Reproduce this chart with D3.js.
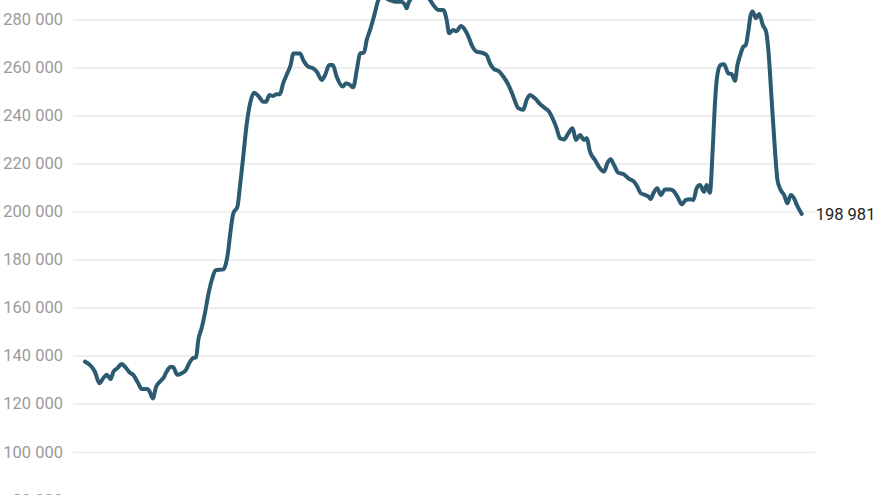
<!DOCTYPE html>
<html>
<head>
<meta charset="utf-8">
<script src="https://cdn.jsdelivr.net/npm/d3@7"></script>
<style>
  html, body { margin: 0; padding: 0; background: #fff; overflow: hidden; }
  svg { display: block; font-family: Roboto, "Noto Sans", sans-serif; }
</style>
</head>
<body>
<div id="container"></div>
<script>
/* CONSTANTS AND GLOBALS */
const width = 880,
      height = 495;

// week number since start of series
const weeks = [
  0, 2.4, 3.6, 5.2, 6.6, 7.9, 9.3, 10.3, 11.7, 13.3, 14.5, 16.3, 17.5, 19.3, 20.6, 22.4, 23.3, 24.6,
  25.8, 27.2, 28.4, 29.6, 31.1, 32.0, 33.5, 35.1, 36.6, 37.8, 39.1, 40.3, 41.1, 42.3, 43.5, 44.7,
  46.0, 47.4, 50.2, 51.0, 52.0, 52.6, 53.8, 55.3, 56.2, 57.4, 58.7, 59.9, 61.3, 62.9, 64.7, 65.7,
  66.9, 68.1, 69.5, 70.7, 71.9, 73.4, 74.6, 75.6, 78.0, 79.2, 81.0, 82.8, 84.1, 85.9, 87.1, 88.6,
  89.9, 91.3, 93.5, 94.7, 96.1, 97.3, 98.6, 99.8, 101.2, 102.2, 103.4, 104.8, 106.4, 107.7, 109.2,
  110.6, 112.5, 114.9, 116.1, 116.7, 117.3, 117.9, 119.7, 121.5, 123.3, 125.2, 126.4, 128.2, 130.0,
  131.2, 132.1, 133.6, 134.8, 136.3, 137.9, 139.1, 140.3, 142.1, 143.9, 145.7, 146.9, 148.1, 150.3,
  151.8, 153.6, 155.4, 157.2, 159.0, 160.2, 161.4, 163.2, 165.1, 166.9, 168.4, 169.9, 171.1, 172.3,
  173.8, 175.3, 176.9, 178.1, 179.6, 181.0, 182.0, 183.2, 185.0, 186.8, 188.3, 189.5, 190.7, 191.9,
  193.5, 195.3, 197.1, 199.2, 200.4, 201.6, 203.2, 204.4, 205.2, 206.2, 207.6, 208.9, 210.4, 212.3,
  213.4, 214.9, 216.5, 218.0, 219.5, 220.7, 221.9, 223.1, 224.6, 225.5, 226.7, 227.7, 228.6, 229.4,
  230.6, 231.8, 233.4, 234.6, 235.8, 236.7, 237.9, 238.8, 239.7, 240.6, 241.5, 242.2, 243.4, 244.6,
  245.9, 247.1, 247.9, 249.1, 250.3, 251.2, 252.4, 253.6, 254.8, 256.0, 257.2, 258.2, 260
];

const values = [
  137500, 135400, 133300, 128500, 130600, 132000, 130200, 133300, 134700, 136500, 135400, 132900, 132000, 128500, 126100, 126100, 125400, 122200,
  127100, 129200, 130600, 133300, 135400, 135200, 132000, 132700, 134000, 136800, 138900, 139300, 146500, 151400, 157600, 165200,
  171500, 175600, 175900, 177700, 184000, 190000, 199200, 202000, 210300, 222800, 236700, 245000, 249400, 248100, 245700, 245700,
  248500, 248100, 248800, 248800, 253400, 257500, 261000, 265800, 265800, 263000, 260300, 259600, 258200, 254700, 256800, 261000,
  261000, 256100, 252000, 253400, 252700, 251700, 258900, 265800, 266100, 271400, 275500, 281100, 288000, 290500, 288800,
  288000, 287300, 287300, 285900, 284600, 286700, 288000, 290500, 291000, 290500, 288000, 285900, 283900, 283900,
  279700, 274200, 275500, 275000, 277200, 275500, 272800, 269300, 266500, 266100, 265100, 261700, 259600, 258200,
  256100, 252700, 247800, 243000, 242300, 246400, 248500, 247100, 244700, 243000, 241500, 238100, 234600, 230500,
  230000, 232500, 234600, 229800, 231800, 229800, 230500, 224900, 221400, 218000, 216600, 220100, 221700, 219400,
  216100, 215600, 213800, 212400, 210300, 207600, 206900, 206200, 205200, 207600, 209700, 206900, 209200, 209200,
  208700, 206200, 203000, 204800, 205100, 204800, 209700, 211000, 208200, 211000, 207800, 225600, 246400, 256800,
  261000, 261300, 257500, 257200, 254400, 261000, 265800, 268600, 269300, 274800, 281800, 283200, 280400, 282200,
  277600, 274800, 267200, 246400, 225600, 213100, 208900, 206900, 203400, 206900, 205500, 202800, 198981
];

const yTicks = [80000, 100000, 120000, 140000, 160000, 180000, 200000, 220000, 240000, 260000, 280000];

const data = weeks.map((w, i) => ({ week: w, value: values[i] }));
const last = data[data.length - 1];

const fmt = v => d3.format(",")(v).replace(/,/g, " ");

/* SCALES */
const xScale = d3.scaleLinear()
  .domain([0, 260])
  .range([85, 801.7]);

const yScale = d3.scaleLinear()
  .domain([80000, 280000])
  .range([499.8, 19.3]);

/* SVG */
const svg = d3.select("#container")
  .append("svg")
  .attr("width", width)
  .attr("height", height);

// gridlines + labels
const yAxis = d3.axisLeft(yScale)
  .tickValues(yTicks)
  .tickSize(-(815 - 73))
  .tickPadding(10)
  .tickFormat(fmt);

const gy = svg.append("g")
  .attr("transform", "translate(73,0)")
  .call(yAxis);

gy.select(".domain").remove();
gy.selectAll(".tick line")
  .attr("stroke", "#e3e3e3")
  .attr("stroke-width", 1.2);
gy.selectAll(".tick text")
  .attr("fill", "#9a9a9a")
  .attr("font-size", 16.5)
  .attr("font-family", "Roboto, sans-serif");

// the line
const line = d3.line()
  .x(d => xScale(d.week))
  .y(d => yScale(d.value))
  .curve(d3.curveMonotoneX);

svg.append("path")
  .datum(data)
  .attr("fill", "none")
  .attr("stroke", "#2c5a71")
  .attr("stroke-width", 4)
  .attr("stroke-linejoin", "round")
  .attr("stroke-linecap", "round")
  .attr("d", line);

// last value label
svg.append("text")
  .attr("x", xScale(last.week) + 14)
  .attr("y", yScale(last.value))
  .attr("dy", "0.35em")
  .attr("fill", "#222")
  .attr("font-size", 16.5)
  .attr("font-family", "Roboto, sans-serif")
  .text(fmt(last.value));
</script>
</body>
</html>
